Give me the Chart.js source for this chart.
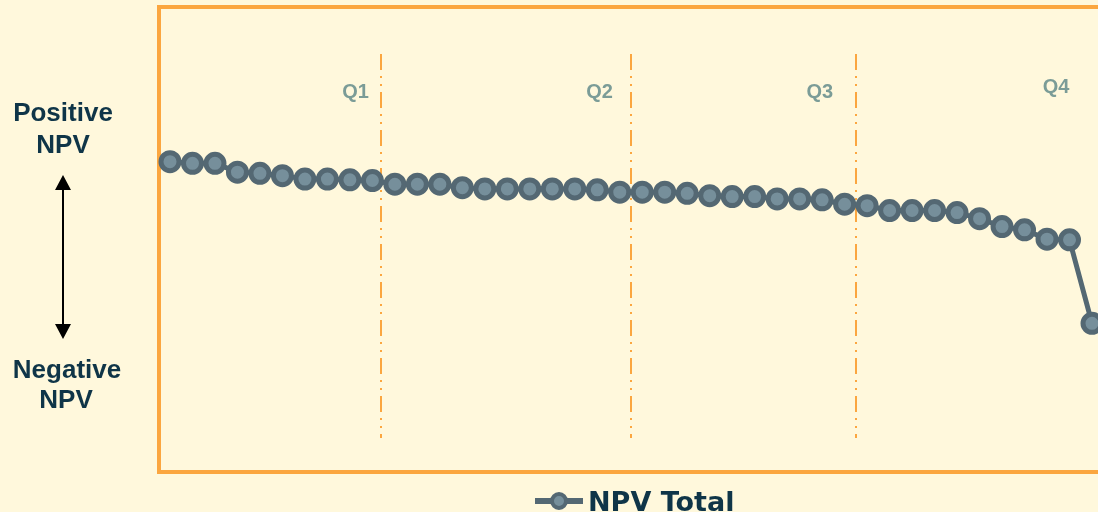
<!DOCTYPE html>
<html lang="en">
<head>
  <meta charset="UTF-8">
  <title>NPV Total</title>
  <style>
    body {
      margin: 0;
      padding: 0;
      overflow: hidden;
      background-color: #FFF8DC;
    }
    canvas {
      display: block;
    }
  </style>
</head>
<body>
  <!-- canvas runs a few px past the window so the last point sits at the edge -->
  <canvas id="npv-chart" width="1106" height="512"></canvas>

  <script src="https://cdn.jsdelivr.net/npm/chart.js"></script>
  <script>
    // One point per period
    const periods = [
      'P1', 'P2', 'P3', 'P4', 'P5', 'P6', 'P7', 'P8', 'P9', 'P10',
      'P11', 'P12', 'P13', 'P14', 'P15', 'P16', 'P17', 'P18', 'P19', 'P20', 'P21',
      'P22', 'P23', 'P24', 'P25', 'P26', 'P27', 'P28', 'P29', 'P30', 'P31',
      'P32', 'P33', 'P34', 'P35', 'P36', 'P37', 'P38', 'P39', 'P40', 'P41', 'P42'
    ];

    // NPV index: positive up, negative down
    const npvTotal = [
      33.0, 32.3, 32.3, 28.5, 28.0, 27.0, 25.5, 25.5, 25.2, 24.9,
      23.3, 23.3, 23.3, 21.8, 21.3, 21.3, 21.3, 21.3, 21.3, 20.9, 19.9,
      19.9, 19.9, 19.4, 18.4, 18.0, 18.0, 17.0, 17.0, 16.6, 14.7,
      14.1, 12.0, 12.0, 12.0, 11.1, 8.5, 5.1, 3.7, -0.3, -0.6, -36.5
    ];

    const quarterNames = ['Q1', 'Q2', 'Q3', 'Q4'];
    // quarter boundaries and label spots, in period-index units
    const quarterBreaks = [9.4, 20.5, 30.5];
    const quarterLabelAt = [8.25, 19.1, 28.9, 39.4];

    const seriesName = 'NPV Total';

    const darkText = '#0F3548';
    const orange = '#FBA63F';
    const lineGrey = '#546873';
    const pointGrey = '#768F9B';

    // frame + dashed quarter lines, drawn under the series
    const backdrop = {
      id: 'backdrop',
      beforeDatasetsDraw(chart) {
        const { ctx, chartArea: a, scales: { x } } = chart;
        ctx.save();
        ctx.strokeStyle = orange;
        ctx.lineWidth = 4;
        ctx.strokeRect(a.left - 11, 7, chart.width, 465);

        ctx.lineWidth = 2;
        ctx.setLineDash([16, 6, 2, 6, 2, 6]);
        quarterBreaks.forEach(q => {
          const px = Math.round(x.getPixelForValue(q));
          ctx.beginPath();
          ctx.moveTo(px, 54);
          ctx.lineTo(px, 438);
          ctx.stroke();
        });
        ctx.restore();
      }
    };

    // quarter names, side labels with arrow, legend
    const annotations = {
      id: 'annotations',
      afterDraw(chart) {
        const { ctx, scales: { x } } = chart;
        ctx.save();

        ctx.fillStyle = '#7B9C97';
        ctx.font = 'bold 20px "Liberation Sans", Arial, sans-serif';
        ctx.textAlign = 'center';
        ctx.textBaseline = 'alphabetic';
        quarterNames.forEach((name, i) => {
          const rise = i === 3 ? 5 : 0;
          ctx.fillText(name, x.getPixelForValue(quarterLabelAt[i]), 98 - rise);
        });

        // Positive / Negative NPV
        ctx.fillStyle = darkText;
        ctx.font = 'bold 26px "Liberation Sans", Arial, sans-serif';
        ctx.fillText('Positive', 63, 121);
        ctx.fillText('NPV', 63, 153);
        ctx.fillText('Negative', 67, 378);
        ctx.fillText('NPV', 66, 408);

        ctx.strokeStyle = '#000';
        ctx.fillStyle = '#000';
        ctx.lineWidth = 2;
        ctx.beginPath();
        ctx.moveTo(63, 186);
        ctx.lineTo(63, 328);
        ctx.stroke();
        ctx.beginPath();
        ctx.moveTo(63, 175);
        ctx.lineTo(71, 190);
        ctx.lineTo(55, 190);
        ctx.closePath();
        ctx.fill();
        ctx.beginPath();
        ctx.moveTo(63, 339);
        ctx.lineTo(71, 324);
        ctx.lineTo(55, 324);
        ctx.closePath();
        ctx.fill();

        // legend
        ctx.strokeStyle = lineGrey;
        ctx.lineWidth = 6;
        ctx.beginPath();
        ctx.moveTo(535, 501);
        ctx.lineTo(583, 501);
        ctx.stroke();
        ctx.lineWidth = 4;
        ctx.fillStyle = pointGrey;
        ctx.beginPath();
        ctx.arc(559, 501, 7, 0, Math.PI * 2);
        ctx.fill();
        ctx.stroke();

        ctx.fillStyle = darkText;
        ctx.font = 'bold 27px "DejaVu Sans"';
        ctx.textAlign = 'left';
        ctx.fillText(seriesName, 588, 511);

        ctx.restore();
      }
    };

    const npvCtx = document.getElementById('npv-chart').getContext('2d');
    const npvChart = new Chart(npvCtx, {
      type: 'line',
      data: {
        labels: periods,
        datasets: [{
          label: seriesName,
          data: npvTotal,
          borderColor: lineGrey,
          borderWidth: 5,
          tension: 0,
          pointRadius: 9,
          pointHoverRadius: 9,
          pointBorderWidth: 5,
          pointBackgroundColor: pointGrey,
          pointBorderColor: lineGrey,
          clip: false
        }]
      },
      options: {
        responsive: false,
        animation: false,
        // top/right end up at 14px: Chart.js reserves room for the point size
        layout: {
          padding: { left: 170, right: 6, top: 6, bottom: 41 }
        },
        scales: {
          x: { display: false },
          y: { display: false, min: -100, max: 96.5 }
        },
        plugins: {
          legend: { display: false },
          tooltip: { enabled: false }
        }
      },
      plugins: [backdrop, annotations]
    });
  </script>
</body>
</html>
